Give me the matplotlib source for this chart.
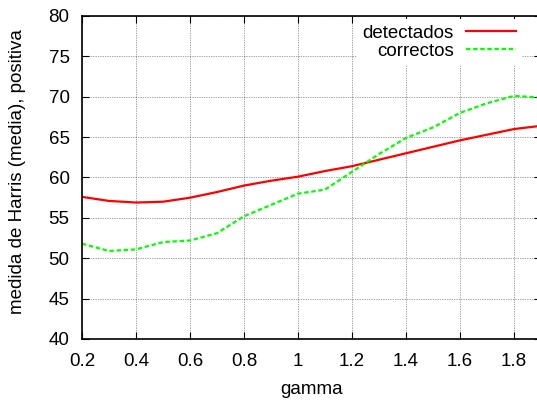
import numpy as np
import matplotlib.pyplot as plt

plt.rcParams['font.family'] = ['Liberation Sans', 'DejaVu Sans']
plt.rcParams['font.size'] = 13.5

gamma = [0.2, 0.3, 0.4, 0.5, 0.6, 0.7, 0.8, 0.9, 1.0, 1.1,
         1.2, 1.3, 1.4, 1.5, 1.6, 1.7, 1.8, 1.9]
detectados = [57.6, 57.1, 56.9, 57.0, 57.5, 58.2, 59.0, 59.6, 60.1, 60.8,
              61.4, 62.2, 63.0, 63.8, 64.6, 65.3, 66.0, 66.4]
correctos = [51.8, 50.9, 51.1, 52.0, 52.2, 53.1, 55.2, 56.6, 58.0, 58.5,
             60.7, 62.9, 64.9, 66.2, 68.0, 69.2, 70.1, 69.9]

xticks = [0.2, 0.4, 0.6, 0.8, 1, 1.2, 1.4, 1.6, 1.8]
xticklabels = ['0.2', '0.4', '0.6', '0.8', '1', '1.2', '1.4', '1.6', '1.8']
yticks = [40, 45, 50, 55, 60, 65, 70, 75, 80]

fig = plt.figure(figsize=(5.37, 4.03), dpi=100)
# axes run past the right edge, so the right border is cut off
x0, x1, y0, y1 = 82, 541, 16, 339
ax = fig.add_axes([x0 / 537, (403 - y1) / 403, (x1 - x0) / 537, (y1 - y0) / 403])

ax.plot(gamma, detectados, color='#ff0000', lw=1.6, label='detectados')
ax.plot(gamma, correctos, color='#00ff00', lw=1.6, ls=(0, (2, 1.2)), label='correctos')

ax.set_xlim(0.2, 1.9)
ax.set_ylim(40, 80)
ax.set_xticks(xticks)
ax.set_xticklabels(xticklabels)
ax.set_yticks(yticks)
ax.tick_params(direction='in', length=5, width=0.8, top=True, right=True)
ax.tick_params(axis='x', pad=10)
ax.tick_params(axis='y', pad=9)
ax.grid(True, color='black', ls=(0, (1, 1.5)), lw=0.5, alpha=0.7)
for s in ax.spines.values():
    s.set_linewidth(1.2)

ax.set_xlabel('gamma', labelpad=8)
ax.set_ylabel('medida de Harris (media), positiva')
ax.yaxis.set_label_coords(-(x0 - 26) / (x1 - x0), (y1 - 172) / (y1 - y0))

leg = ax.legend(loc='upper right',
                bbox_to_anchor=((522 - x0) / (x1 - x0), 1.0 - 3 / (y1 - y0)),
                frameon=True, fancybox=False, markerfirst=False,
                handlelength=2.7, handletextpad=0.65, borderaxespad=0.0,
                labelspacing=0.05, borderpad=0.3)
leg.get_frame().set_edgecolor('none')
leg.get_frame().set_facecolor('white')
leg.get_frame().set_alpha(1)

fig.savefig('out.png', dpi=100)
